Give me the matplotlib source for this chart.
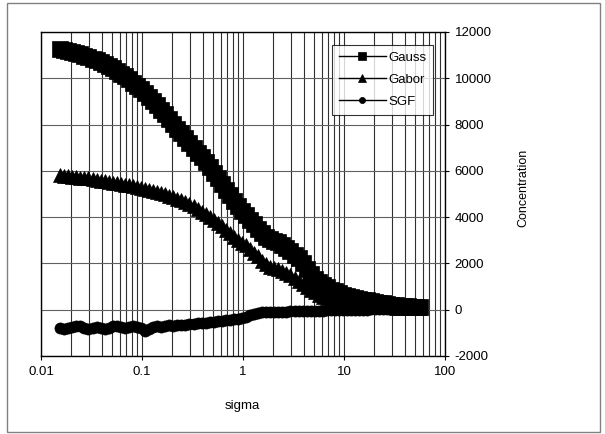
import numpy as np
import matplotlib
matplotlib.use("Agg")
import matplotlib.pyplot as plt
from matplotlib.patches import Rectangle
from matplotlib.ticker import FixedLocator, FixedFormatter, LogLocator, NullFormatter

plt.rcParams['font.family'] = ['Liberation Sans', 'DejaVu Sans']
plt.rcParams['axes.unicode_minus'] = False

# sigma values
sigma = [0.0155, 0.0170, 0.0186, 0.0204, 0.0224, 0.0245, 0.0269, 0.0295, 0.0324, 0.0355,
         0.0389, 0.0427, 0.0468, 0.0513, 0.0562, 0.0617, 0.0676, 0.0741, 0.0813, 0.0891,
         0.0977, 0.107, 0.117, 0.129, 0.141, 0.155, 0.170, 0.186, 0.204, 0.224,
         0.245, 0.269, 0.295, 0.324, 0.355, 0.389, 0.427, 0.468, 0.513, 0.562,
         0.617, 0.676, 0.741, 0.813, 0.891, 0.977, 1.07, 1.17, 1.29, 1.41,
         1.55, 1.70, 1.86, 2.04, 2.24, 2.45, 2.69, 2.95, 3.24, 3.55,
         3.89, 4.27, 4.68, 5.13, 5.62, 6.17, 6.76, 7.41, 8.13, 8.91,
         9.77, 10.7, 11.7, 12.9, 14.1, 15.5, 17.0, 18.6, 20.4, 22.4,
         24.5, 26.9, 29.5, 32.4, 35.5, 38.9, 42.7, 46.8, 51.3, 56.2]

gauss = [11250, 11220, 11180, 11140, 11090, 11040, 10980, 10920, 10850, 10780,
         10700, 10620, 10530, 10430, 10320, 10200, 10080, 9950, 9810, 9670,
         9520, 9360, 9190, 9010, 8830, 8640, 8440, 8240, 8040, 7830,
         7620, 7410, 7200, 6990, 6780, 6580, 6380, 6150, 5910, 5670,
         5430, 5190, 4950, 4710, 4480, 4280, 4080, 3880, 3690, 3500,
         3320, 3160, 3060, 2980, 2910, 2810, 2680, 2540, 2380, 2220,
         2000, 1770, 1530, 1330, 1190, 1070, 960, 870, 790, 720,
         650, 600, 550, 510, 470, 430, 400, 360, 330, 300,
         270, 250, 220, 200, 180, 160, 140, 120, 110, 100]

gabor = [5800, 5790, 5770, 5750, 5730, 5710, 5690, 5670, 5640, 5610,
         5580, 5550, 5520, 5490, 5460, 5430, 5400, 5370, 5340, 5310,
         5270, 5230, 5180, 5130, 5080, 5030, 4980, 4920, 4860, 4790,
         4720, 4640, 4550, 4460, 4350, 4240, 4120, 4000, 3870, 3740,
         3600, 3460, 3310, 3160, 3020, 2900, 2780, 2630, 2470, 2300,
         2120, 1960, 1850, 1790, 1740, 1680, 1600, 1500, 1380, 1250,
         1110, 980, 860, 750, 650, 570, 500, 440, 380, 320,
         280, 250, 220, 200, 180, 165, 150, 140, 130, 120,
         110, 105, 100, 95, 90, 85, 80, 75, 70, 70]

sgf = [-780, -820, -800, -740, -700, -720, -780, -820, -800, -760,
       -790, -820, -780, -720, -700, -740, -790, -760, -720, -760,
       -800, -900, -840, -760, -720, -740, -700, -680, -700, -660,
       -640, -650, -620, -600, -590, -570, -560, -540, -520, -500,
       -480, -460, -440, -410, -380, -350, -300, -240, -180, -140,
       -120, -110, -100, -95, -90, -85, -80, -75, -70, -65,
       -60, -55, -50, -45, -40, -35, -30, -25, -20, -20,
       -15, -10, -5, 0, 0, 5, 5, 10, 10, 10,
       10, 10, 10, 10, 10, 10, 10, 10, 10, 10]

xticks = [0.01, 0.1, 1, 10, 100]
xticklabels = ['0.01', '0.1', '1', '10', '100']
yticks = [-2000, 0, 2000, 4000, 6000, 8000, 10000, 12000]

W, H = 605, 434
fig = plt.figure(figsize=(W / 100, H / 100), dpi=100)
ax = fig.add_axes([41 / W, 1 - 356 / H, 404 / W, 324 / H])

ax.plot(sigma, gauss, color='black', lw=1, marker='s', ms=11, mew=0.5, label='Gauss')
ax.plot(sigma, gabor, color='black', lw=1, marker='^', ms=9.5, mew=0.5, label='Gabor')
ax.plot(sigma, sgf, color='black', lw=1, marker='o', ms=8, mew=0.5, label='SGF')

ax.set_xscale('log')
ax.set_xlim(0.01, 100)
ax.set_ylim(-2000, 12000)

ax.xaxis.set_major_locator(FixedLocator(xticks))
ax.xaxis.set_major_formatter(FixedFormatter(xticklabels))
ax.xaxis.set_minor_locator(LogLocator(base=10, subs=np.arange(2, 10)))
ax.xaxis.set_minor_formatter(NullFormatter())
ax.set_yticks(yticks)

ax.yaxis.tick_right()
ax.yaxis.set_label_position('right')
ax.tick_params(axis='both', which='major', direction='out', length=3, width=0.8,
               labelsize=9.5, pad=4, colors='black')
ax.tick_params(axis='x', which='minor', length=0)

ax.grid(True, which='both', axis='x', color='#303030', lw=0.8)
ax.grid(True, which='major', axis='y', color='#606060', lw=0.8)
ax.set_axisbelow(True)

for s in ax.spines.values():
    s.set_color('black')
    s.set_linewidth(1)

ax.set_xlabel('sigma', fontsize=9.5)
ax.xaxis.set_label_coords(0.4975, -0.135)
ax.set_ylabel('Concentration', fontsize=9, rotation=90)
ax.yaxis.set_label_coords(1.18, 0.52)

leg = ax.legend(loc='upper right', bbox_to_anchor=(0.97, 0.96), borderaxespad=0,
                fontsize=9.5, frameon=True, fancybox=False, markerscale=0.55,
                handlelength=3.6, handletextpad=0.15, labelspacing=0.75,
                borderpad=0.5)
leg.get_frame().set_edgecolor('black')
leg.get_frame().set_linewidth(0.8)

fig.patches.append(Rectangle((7 / W, 1 - 432 / H), 593 / W, 429.5 / H,
                             transform=fig.transFigure, fill=False,
                             edgecolor='#808080', lw=1))

fig.savefig('out.png', dpi=100)
